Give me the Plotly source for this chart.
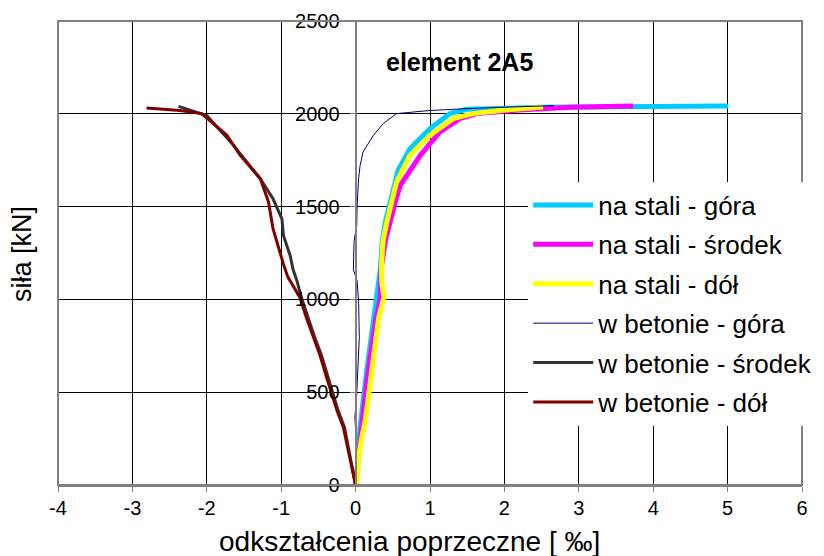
import plotly.graph_objects as go

# ---- data ----
steel_top_x = [0.01, 0.04, 0.06, 0.15, 0.24, 0.33, 0.36, 0.40, 0.45, 0.51, 0.57, 0.73, 1.00, 1.27, 1.49, 2.50, 5.01]
steel_top_y = [0, 150, 311, 616, 886, 1155, 1317, 1417, 1497, 1600, 1695, 1812, 1920, 2001, 2024, 2035, 2042]

steel_mid_x = [0.0, 0.04, 0.08, 0.17, 0.27, 0.33, 0.34, 0.40, 0.46, 0.53, 0.60, 0.87, 1.13, 1.40, 1.63, 2.20, 2.90, 3.73]
steel_mid_y = [0, 185, 311, 616, 886, 1000, 1155, 1317, 1417, 1520, 1614, 1776, 1901, 1974, 2001, 2020, 2035, 2042]

steel_bot_x = [0.015, 0.04, 0.08, 0.13, 0.18, 0.24, 0.31, 0.38, 0.35, 0.35, 0.37, 0.42, 0.48, 0.55, 0.73, 1.00, 1.31, 1.58, 2.00, 2.52]
steel_bot_y = [0, 149, 250, 347, 500, 706, 900, 1012, 1100, 1200, 1317, 1417, 1520, 1632, 1776, 1884, 1974, 2001, 2020, 2036]

conc_top_x = [0.0, 0.01, 0.0, -0.01, 0.015, 0.03, 0.05, 0.04, 0.02, -0.03, -0.02, 0.015, 0.02, 0.04, 0.06, 0.10, 0.24, 0.37, 0.55, 1.00, 1.67, 2.66]
conc_top_y = [0, 150, 300, 365, 491, 650, 796, 993, 1100, 1160, 1317, 1398, 1500, 1650, 1720, 1794, 1884, 1947, 2001, 2018, 2031, 2044]

conc_mid_x = [0.0, -0.07, -0.12, -0.15, -0.235, -0.31, -0.37, -0.46, -0.55, -0.64, -0.73, -0.79, -0.84, -0.88, -0.97, -0.99, -1.11, -1.28, -1.64, -2.00, -2.30, -2.38]
conc_mid_y = [0, 149, 250, 311, 401, 500, 580, 700, 796, 900, 1012, 1102, 1160, 1237, 1344, 1434, 1542, 1650, 1830, 1991, 2031, 2040]

conc_bot_x = [0.0, -0.075, -0.13, -0.165, -0.25, -0.33, -0.39, -0.48, -0.57, -0.66, -0.75, -0.82, -0.91, -0.97, -1.02, -1.11, -1.17, -1.28, -1.55, -1.73, -2.07, -2.36, -2.81]
conc_bot_y = [0, 149, 250, 311, 401, 500, 580, 700, 796, 900, 1012, 1060, 1120, 1190, 1254, 1381, 1524, 1650, 1776, 1884, 2001, 2018, 2031]

series_names = ["na stali - góra", "na stali - środek", "na stali - dół",
                "w betonie - góra", "w betonie - środek", "w betonie - dół"]

x_ticks = [-4, -3, -2, -1, 0, 1, 2, 3, 4, 5, 6]
x_tick_labels = ["-4", "-3", "-2", "-1", "0", "1", "2", "3", "4", "5", "6"]
y_ticks = [0, 500, 1000, 1500, 2000, 2500]
y_tick_labels = ["0", "500", "1000", "1500", "2000", "2500"]

FONT = "Arial, 'Liberation Sans', sans-serif"

xs = [steel_top_x, steel_mid_x, steel_bot_x, conc_top_x, conc_mid_x, conc_bot_x]
ys = [steel_top_y, steel_mid_y, steel_bot_y, conc_top_y, conc_mid_y, conc_bot_y]
colors = ["#00CCFF", "#FF00FF", "#FFFF00", "#000080", "#333333", "#800000"]
widths = [5, 5, 5, 1, 3, 3]

fig = go.Figure()
for i, (name, x, y, c, w) in enumerate(zip(series_names, xs, ys, colors, widths)):
    fig.add_trace(go.Scatter(x=x, y=y, mode="lines", name=name,
                             legendgroup=f"g{i}",
                             line=dict(color=c, width=w)))

# the page body adds an 8px offset, so the figure is 8px smaller and margins shifted
fig.update_layout(
    width=816, height=548,
    margin=dict(l=50, r=22, t=13, b=71, autoexpand=False),
    plot_bgcolor="white", paper_bgcolor="white",
    font=dict(family=FONT, color="black"),
    showlegend=True,
    legend=dict(x=0.632, xanchor="left", y=0.654, yanchor="top",
                bgcolor="white", borderwidth=0,
                font=dict(family=FONT, size=26, color="black"),
                itemwidth=60, tracegroupgap=2.6),
    xaxis=dict(range=[-4, 6], tickvals=x_ticks, ticktext=x_tick_labels,
               showgrid=True, gridcolor="#000000", gridwidth=1, zeroline=False,
               showline=True, linecolor="#808080", linewidth=2,
               ticks="outside", ticklen=5, tickcolor="#808080",
               ticklabelstandoff=-1,
               tickfont=dict(family=FONT, size=20, color="black")),
    yaxis=dict(range=[0, 2500], tickvals=y_ticks, ticktext=y_tick_labels,
               showgrid=True, gridcolor="#000000", gridwidth=1, zeroline=False,
               anchor="free", position=0.4,
               showline=True, linecolor="#808080", linewidth=2,
               ticks="outside", ticklen=5, tickcolor="#808080",
               ticklabelstandoff=6,
               tickfont=dict(family=FONT, size=20, color="black")),
    shapes=[dict(type="rect", xref="paper", yref="paper", x0=0, x1=1, y0=0, y1=1,
                 line=dict(color="#808080", width=2), layer="above")],
    annotations=[
        dict(text="<b>element 2A5</b>", x=1.39, y=2277, xref="x", yref="y",
             xanchor="center", yanchor="middle", showarrow=False,
             font=dict(family=FONT, size=25, color="black")),
        dict(text="siła [kN]", x=-0.0475, y=0.497, xref="paper", yref="paper",
             xanchor="center", yanchor="middle",
             textangle=-90, showarrow=False,
             font=dict(family=FONT, size=27, color="black")),
        dict(text="odkształcenia poprzeczne [ ‰]", x=0.472, y=-0.121,
             xref="paper", yref="paper", xanchor="center", yanchor="middle",
             showarrow=False,
             font=dict(family=FONT, size=28, color="black")),
    ],
)

fig.write_html("out.html")
